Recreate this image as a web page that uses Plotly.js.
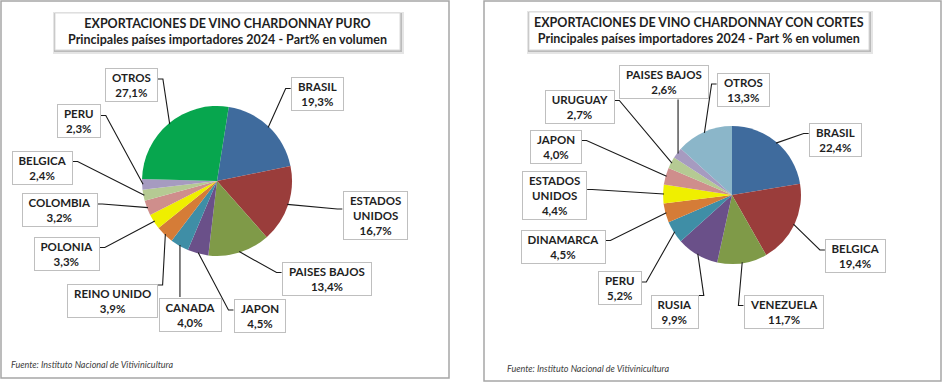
<!DOCTYPE html>
<html><head><meta charset="utf-8">
<script src="https://cdn.plot.ly/plotly-3.0.1.min.js"></script>
<style>html,body{margin:0;padding:0;background:#fff}#chart{width:942px;height:383px}</style>
</head><body><div id="chart"></div>
<script>
// ---------- DATA ----------
const puroLabels = ['BRASIL','ESTADOS UNIDOS','PAISES BAJOS','JAPON','CANADA','REINO UNIDO','POLONIA','COLOMBIA','BELGICA','PERU','OTROS'];
const puroValues = [19.3,16.7,13.4,4.5,4.0,3.9,3.3,3.2,2.4,2.3,27.1];
const cortesLabels = ['BRASIL','BELGICA','VENEZUELA','RUSIA','PERU','DINAMARCA','ESTADOS UNIDOS','JAPON','URUGUAY','PAISES BAJOS','OTROS'];
const cortesValues = [22.4,19.4,11.7,9.9,5.2,4.5,4.4,4.0,2.7,2.6,13.3];
const puroTitle = ['EXPORTACIONES DE VINO CHARDONNAY PURO','Principales países importadores 2024 - Part% en volumen'];
const cortesTitle = ['EXPORTACIONES DE VINO CHARDONNAY CON CORTES','Principales países importadores 2024 - Part % en volumen'];
const sourceText = 'Fuente: Instituto Nacional de Vitivinicultura';

// ---------- STYLE / LAYOUT ----------
const W = 942, H = 383;
const puroColors = ['#3F6B9D','#9A3D3B','#7F9A48','#6A5089','#3F8EA6','#D57C37','#EFEF00','#CF8E8C','#B5CA93','#A69BC0','#07A64E'];
const cortesColors = ['#3F6B9D','#9A3D3B','#7F9A48','#6A5089','#3F8EA6','#D57C37','#EFEF00','#CF8E8C','#B5CA93','#A69BC0','#8BB6C9'];
const puroPie = {cx:217, cy:181, r:75, rot:9};
const cortesPie = {cx:732, cy:195, r:69, rot:0};
// label box centres (pixels) and the side the leader line attaches to
const puroPos = [[317,94.5],[375,215],[326.5,278.5],[259.5,316],[190,315],[112,301],[67,253.5],[59.5,210],[42,167.5],[79,121.5],[131.5,85]];
const puroAttach = ['l','l','l','l','t','rt','r','r','r','r','r'];
const cortesPos = [[835,139.5],[855.5,256],[783.5,311.5],[675,311.5],[619.5,288],[563,246.5],[554.5,195.5],[555.5,146.5],[579.5,106.5],[663.5,81.5],[743,90]];
const cortesAttach = ['l','l','l','rt','r','r','r','r','r','b','l'];

const FONT = 'Lato';
const LBL_SIZE = 11.5;
const PAD = 2;

const px = x => x / W;
const py = y => 1 - y / H;
const ctx = document.createElement('canvas').getContext('2d');
function tw(s, font){ ctx.font = font; return ctx.measureText(s).width; }
const fmt = v => v.toFixed(1).replace('.', ',') + '%';

const shapes = [];
const annotations = [];

function panel(x0,y0,x1,y1){
  shapes.push({type:'rect',xref:'paper',yref:'paper',x0:px(x0),x1:px(x1),y0:py(y0),y1:py(y1),
    line:{color:'#A6A6A6',width:1.5},fillcolor:'rgba(0,0,0,0)',layer:'below'});
}
function titleBox(x0,y0,x1,y1,lines){
  shapes.push({type:'rect',xref:'paper',yref:'paper',x0:px(x0-2),x1:px(x1+4),y0:py(y0-1),y1:py(y1+4),
    line:{width:0},fillcolor:'rgba(0,0,0,0.10)',layer:'below'});
  shapes.push({type:'rect',xref:'paper',yref:'paper',x0:px(x0-1),x1:px(x1+2),y0:py(y0),y1:py(y1+2),
    line:{width:0},fillcolor:'rgba(0,0,0,0.18)',layer:'below'});
  shapes.push({type:'rect',xref:'paper',yref:'paper',x0:px(x0),x1:px(x1),y0:py(y0),y1:py(y1),
    line:{color:'#D9D9D9',width:1},fillcolor:'#FFFFFF',layer:'below'});
  annotations.push({xref:'paper',yref:'paper',x:px((x0+x1)/2),y:py((y0+y1)/2),xanchor:'center',yanchor:'middle',
    showarrow:false,text:lines.map(l=>'<b>'+l+'</b>').join('<br>'),align:'center',
    font:{family:FONT,size:12.5,color:'#1F1F1F'}});
}

function pieTrace(labels, values, colors, g){
  return {type:'pie', labels:labels, values:values, sort:false, direction:'clockwise', rotation:g.rot,
    marker:{colors:colors, line:{width:0}}, textinfo:'none', hoverinfo:'none', showlegend:false,
    domain:{x:[px(g.cx-g.r), px(g.cx+g.r)], y:[py(g.cy+g.r), py(g.cy-g.r)]}};
}

function labelsFor(labels, values, g, pos, attach){
  const total = values.reduce((a,b)=>a+b,0);
  let cum = 0;
  labels.forEach((lab,i)=>{
    const v = values[i];
    const mid = (g.rot + (cum + v/2)/total*360) * Math.PI/180;
    cum += v;
    const P = [g.cx + (g.r-1)*Math.sin(mid), g.cy - (g.r-1)*Math.cos(mid)];
    const nameLines = lab === 'ESTADOS UNIDOS' ? ['ESTADOS','UNIDOS'] : [lab];
    const lines = nameLines.concat([fmt(v)]);
    const textW = Math.max(...lines.map(l=>tw(l,'bold '+LBL_SIZE+'px '+FONT)));
    const boxW = textW + 8;
    const hw = boxW/2 + PAD + 1;
    const hh = lines.length*LBL_SIZE*1.3/2 + PAD + 1;
    const [cx, cy] = pos[i];
    const a = attach[i];
    let path;
    if(a === 't'){
      path = `M${P[0]},${P[1]} L${P[0]},${cy-hh}`;
    } else if(a === 'b'){
      path = `M${P[0]},${P[1]} L${P[0]},${cy+hh}`;
    } else {
      const side = a[0] === 'l' ? -1 : 1;
      const y = a.length > 1 ? cy - hh + 2 : cy - 6;
      const ex = cx + side*hw;
      path = `M${P[0]},${P[1]} L${ex + side*5},${y} L${ex},${y}`;
    }
    path = path.replace(/(-?[\d.]+),(-?[\d.]+)/g, (m,x,y)=>px(+x)+','+py(+y));
    shapes.push({type:'path',xref:'paper',yref:'paper',path:path,line:{color:'#1A1A1A',width:1.1},layer:'above'});
    annotations.push({xref:'paper',yref:'paper',x:px(cx),y:py(cy),xanchor:'center',yanchor:'middle',
      showarrow:false,text:lines.map(l=>'<b>'+l+'</b>').join('<br>'),align:'center',width:boxW,
      font:{family:FONT,size:LBL_SIZE,color:'#1F1F1F'},bgcolor:'#FFFFFF',bordercolor:'#BFBFBF',borderwidth:1,borderpad:PAD});
  });
}

panel(1,1,449,378);
panel(484,1,941,381);
titleBox(55,13,400,50,puroTitle);
titleBox(529,12,869,50,cortesTitle);
labelsFor(puroLabels, puroValues, puroPie, puroPos, puroAttach);
labelsFor(cortesLabels, cortesValues, cortesPie, cortesPos, cortesAttach);
annotations.push({xref:'paper',yref:'paper',x:px(9),y:py(364),xanchor:'left',yanchor:'middle',showarrow:false,
  text:'<i>'+sourceText+'</i>',font:{family:FONT,size:9,color:'#404040'}});
annotations.push({xref:'paper',yref:'paper',x:px(505),y:py(368),xanchor:'left',yanchor:'middle',showarrow:false,
  text:'<i>'+sourceText+'</i>',font:{family:FONT,size:9,color:'#404040'}});

Plotly.newPlot('chart',[pieTrace(puroLabels,puroValues,puroColors,puroPie), pieTrace(cortesLabels,cortesValues,cortesColors,cortesPie)],{
  width:W,height:H,margin:{l:0,r:0,t:0,b:0},paper_bgcolor:'#FFFFFF',plot_bgcolor:'#FFFFFF',
  showlegend:false,shapes:shapes,annotations:annotations,font:{family:FONT}
},{displayModeBar:false,staticPlot:true});
</script></body></html>
